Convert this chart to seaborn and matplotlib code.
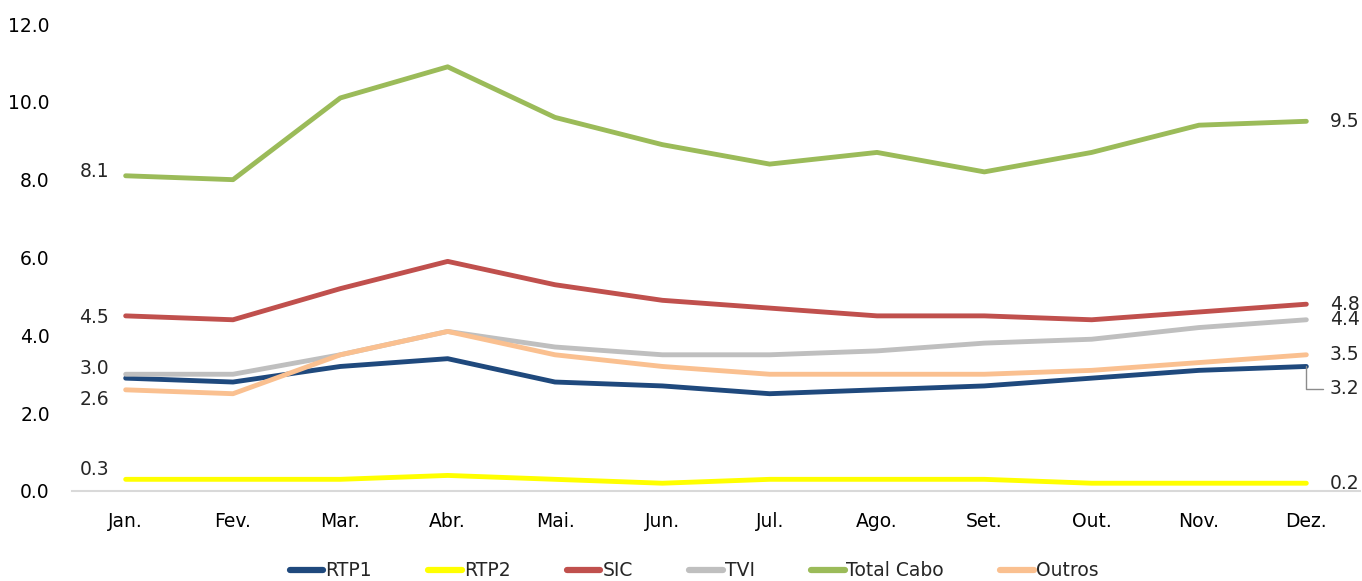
import numpy as np
import matplotlib
matplotlib.use("Agg")
import matplotlib.pyplot as plt
import pandas as pd
import seaborn as sns

# Dados
meses = ['Jan.', 'Fev.', 'Mar.', 'Abr.', 'Mai.', 'Jun.', 'Jul.', 'Ago.', 'Set.', 'Out.', 'Nov.', 'Dez.']
rtp1 = [2.9, 2.8, 3.2, 3.4, 2.8, 2.7, 2.5, 2.6, 2.7, 2.9, 3.1, 3.2]
rtp2 = [0.3, 0.3, 0.3, 0.4, 0.3, 0.2, 0.3, 0.3, 0.3, 0.2, 0.2, 0.2]
sic = [4.5, 4.4, 5.2, 5.9, 5.3, 4.9, 4.7, 4.5, 4.5, 4.4, 4.6, 4.8]
tvi = [3.0, 3.0, 3.5, 4.1, 3.7, 3.5, 3.5, 3.6, 3.8, 3.9, 4.2, 4.4]
total_cabo = [8.1, 8.0, 10.1, 10.9, 9.6, 8.9, 8.4, 8.7, 8.2, 8.7, 9.4, 9.5]
outros = [2.6, 2.5, 3.5, 4.1, 3.5, 3.2, 3.0, 3.0, 3.0, 3.1, 3.3, 3.5]

series = ['RTP1', 'RTP2', 'SIC', 'TVI', 'Total Cabo', 'Outros']
cores = ['#1F497D', '#FFFF00', '#C0504D', '#BFBFBF', '#9BBB59', '#FAC090']
valores = [rtp1, rtp2, sic, tvi, total_cabo, outros]

# Tabela longa para o seaborn
df = pd.DataFrame({
    'mes': np.tile(np.arange(len(meses)), len(series)),
    'valor': np.concatenate(valores),
    'canal': np.repeat(series, len(meses)),
})

sns.set_style('white')
plt.rcParams['font.family'] = ['DejaVu Sans']
fs = 13.5

fig = plt.figure(figsize=(13.62, 5.81), dpi=100)
ax = fig.add_axes([72 / 1362, 1 - 491 / 581, 1288 / 1362, 467 / 581])

sns.lineplot(data=df, x='mes', y='valor', hue='canal', palette=dict(zip(series, cores)),
             hue_order=series, linewidth=3.5, ax=ax, legend=True, solid_capstyle='round')

ax.set_xlim(-0.5, len(meses) - 0.5)
ax.set_ylim(0, 12)
ax.set_xticks(range(len(meses)))
ax.set_xticklabels(meses)
ax.set_yticks(np.arange(0, 12.1, 2))
ax.set_yticklabels(['%.1f' % v for v in np.arange(0, 12.1, 2)])
ax.set_xlabel('')
ax.set_ylabel('')
ax.tick_params(axis='both', labelsize=fs, length=0, colors='black')
ax.tick_params(axis='x', pad=15)
ax.tick_params(axis='y', pad=16)
for lado in ['top', 'right', 'left']:
    ax.spines[lado].set_visible(False)
ax.spines['bottom'].set_color('#D9D9D9')
ax.spines['bottom'].set_linewidth(1.5)

# Rotulos de dados em Janeiro (deslocamento vertical em pontos)
dy_esq = {'Total Cabo': 3, 'SIC': -1, 'TVI': 4, 'Outros': -7, 'RTP2': 7}
for nome, vals in zip(series, valores):
    if nome in dy_esq:
        ax.annotate('%.1f' % vals[0], (0, vals[0]), xytext=(-12, dy_esq[nome]), textcoords='offset points',
                    ha='right', va='center', fontsize=fs)
# Rotulos de dados em Dezembro
for nome, vals in zip(series, valores):
    if nome == 'RTP1':
        continue
    ax.annotate('%.1f' % vals[-1], (11, vals[-1]), xytext=(17, 0), textcoords='offset points',
                ha='left', va='center', fontsize=fs, annotation_clip=False)
# RTP1 com linha de chamada
ax.annotate('%.1f' % rtp1[-1], (11, rtp1[-1]), xytext=(17, -16), textcoords='offset points',
            ha='left', va='center', fontsize=fs, annotation_clip=False,
            arrowprops=dict(arrowstyle='-', color='#8C8C8C', lw=1,
                            connectionstyle='angle,angleA=0,angleB=90,rad=0',
                            shrinkA=3, shrinkB=0))

leg = ax.legend(loc='center', bbox_to_anchor=(0.483, -0.171), ncol=6, frameon=False,
                fontsize=fs, handlelength=1.8, columnspacing=3.0, handletextpad=0.1)
for linha in leg.get_lines():
    linha.set_linewidth(4.5)

fig.savefig('out.png', dpi=100)
